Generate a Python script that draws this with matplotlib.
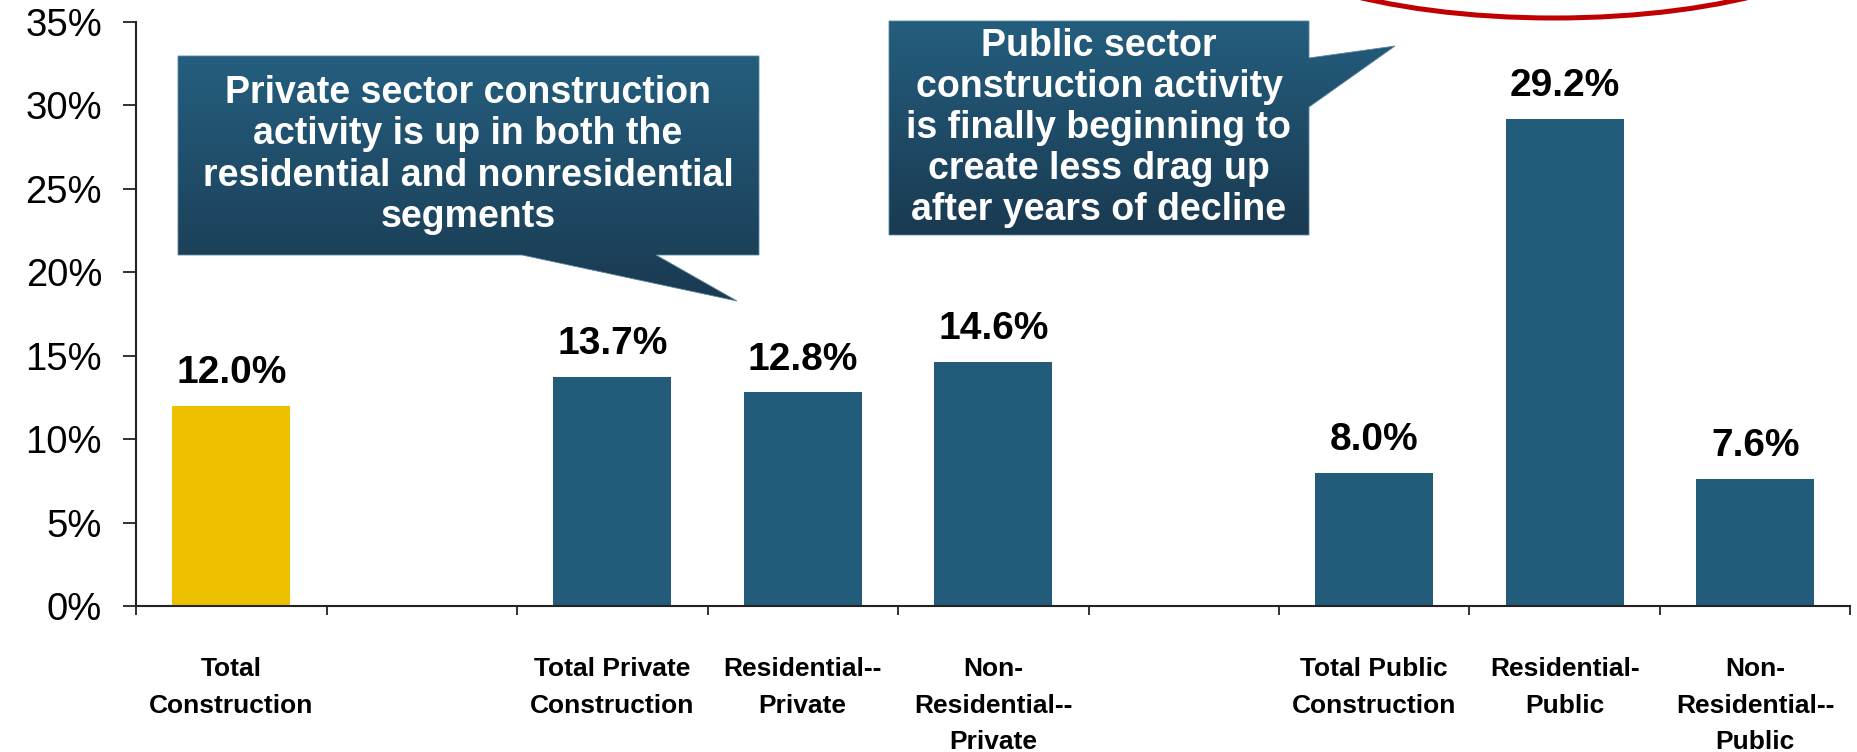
import numpy as np
import matplotlib
matplotlib.use("Agg")
import matplotlib.pyplot as plt
from matplotlib.patches import Polygon, Ellipse
from matplotlib.colors import to_rgb

plt.rcParams['font.family'] = ['Liberation Sans', 'DejaVu Sans']

# Chart data (blank slots separate the groups)
categories = ["Total\nConstruction", "",
              "Total Private\nConstruction", "Residential--\nPrivate", "Non-\nResidential--\nPrivate", "",
              "Total Public\nConstruction", "Residential-\nPublic", "Non-\nResidential--\nPublic"]
values = [12.0, None, 13.7, 12.8, 14.6, None, 8.0, 29.2, 7.6]
bar_colors = ["#EDC100", None, "#235B7A", "#235B7A", "#235B7A", None, "#235B7A", "#235B7A", "#235B7A"]

private_note = "Private sector construction\nactivity is up in both the\nresidential and nonresidential\nsegments"
public_note = "Public sector\nconstruction activity\nis finally beginning to\ncreate less drag up\nafter years of decline"

W, H = 1857, 752
fig = plt.figure(figsize=(W / 100, H / 100), dpi=100)
ax = fig.add_axes([136 / W, 1 - 606 / H, (1850.5 - 136) / W, (606 - 22) / H])

pos = [i for i, v in enumerate(values) if v is not None]
vals = [values[i] for i in pos]
cols = [bar_colors[i] for i in pos]
ax.bar(pos, vals, width=0.62, color=cols, zorder=2)

for x, v in zip(pos, vals):
    ax.annotate(f"{v:.1f}%", (x, v), xytext=(0, 16.5), textcoords='offset points',
                ha='center', va='baseline', fontsize=28, fontweight='bold')

ax.set_xlim(-0.5, len(categories) - 0.5)
ax.set_ylim(0, 35)
ax.set_yticks(np.arange(0, 36, 5))
ax.set_yticklabels([f"{t}%" for t in range(0, 36, 5)], fontsize=27.5)
ax.tick_params(axis='y', length=9.4, width=1.3, pad=15, color='#222222')

ax.set_xticks(np.arange(-0.5, len(categories), 1.0))
ax.set_xticklabels([])
ax.set_xticks(range(len(categories)), minor=True)
ax.set_xticklabels(categories, minor=True, fontsize=19, fontweight='bold', linespacing=1.66)
ax.tick_params(axis='x', which='major', length=6.5, width=1.3, color='#222222')
ax.tick_params(axis='x', which='minor', length=0, pad=37)

for s in ['top', 'right']:
    ax.spines[s].set_visible(False)
for s in ['left', 'bottom']:
    ax.spines[s].set_linewidth(1.5)
    ax.spines[s].set_color('#222222')

# overlay in pixel coordinates for the callouts
ov = fig.add_axes([0, 0, 1, 1], zorder=5)
ov.set_xlim(0, W)
ov.set_ylim(H, 0)
ov.axis('off')
ov.patch.set_visible(False)

top_c = np.array(to_rgb("#245E7E"))
bot_c = np.array(to_rgb("#1A3A51"))


def callout(pts, text, cx, cy):
    poly = Polygon(pts, closed=True, facecolor='none', edgecolor='#5A86A0', linewidth=0.6, zorder=3)
    ov.add_patch(poly)
    ys = [p[1] for p in pts]
    xs = [p[0] for p in pts]
    t = np.linspace(0, 1, 256)[:, None, None]
    grad = top_c * (1 - t) + bot_c * t
    im = ov.imshow(grad, extent=(min(xs), max(xs), max(ys), min(ys)), aspect='auto',
                   interpolation='bilinear', zorder=2)
    im.set_clip_path(poly)
    ov.text(cx, cy, text, ha='center', va='center', color='white', fontsize=27,
            fontweight='bold', linespacing=1.18, zorder=4)


callout([(178, 56), (759, 56), (759, 255), (656, 255), (737, 301), (522, 255), (178, 255)],
        private_note, 468, 155)
callout([(889, 21), (1309, 21), (1309, 58), (1395, 46), (1309, 107), (1309, 235), (889, 235)],
        public_note, 1099, 128)

ov.set_xlim(0, W)
ov.set_ylim(H, 0)

oval = Ellipse((1554, -82), 640, 200, fill=False, edgecolor='#C00000', linewidth=3.6, zorder=6,
               clip_on=False)
ov.add_patch(oval)

fig.savefig("out.png", dpi=100)
